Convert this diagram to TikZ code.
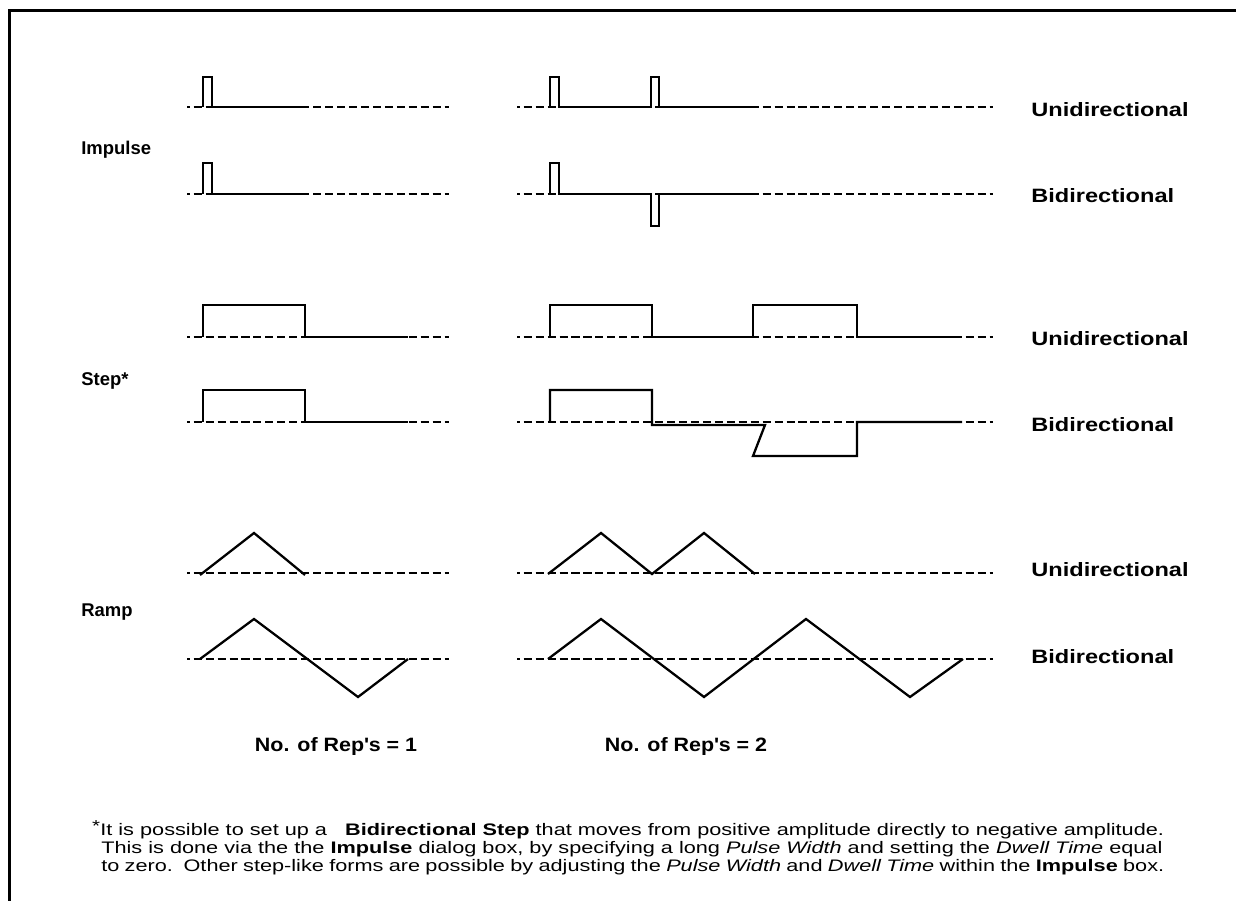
\documentclass[tikz,border=0pt]{standalone}
\usepackage{fontspec}
\setmainfont{Liberation Sans}
\newfontfamily\notefont[FakeStretch=1.3]{Liberation Sans}
\newfontfamily\modefont[FakeStretch=1.22]{Liberation Sans}
\newfontfamily\repfont[FakeStretch=1.11]{Liberation Sans}
\begin{document}
\begin{tikzpicture}[x=0.02cm,y=-0.02cm,
    wave/.style={line width=1.3pt,line join=miter},
    baseline/.style={line width=1.2pt,dash pattern=on 4.6pt off 2.2pt,dash phase=3pt},
    kindlabel/.style={anchor=west,inner sep=0pt,font=\bfseries\fontsize{10.5}{12}\selectfont},
    modelabel/.style={anchor=west,inner sep=0pt,font=\modefont\bfseries\fontsize{11}{12}\selectfont},
    replabel/.style={inner sep=0pt,font=\repfont\bfseries\fontsize{11}{12}\selectfont},
    noteline/.style={anchor=west,inner sep=0pt,font=\notefont\fontsize{9.5}{10}\selectfont}]
        \useasboundingbox (0,0) rectangle (1236,901);
        % frame, only top and left edges in view
        \draw[line width=1.7pt] (9.5,901) -- (9.5,11) -- (1236,11);

        % dashed zero lines
        \foreach \yb in {107,194,337,422,573,659}
        {
            \draw[baseline] (187,\yb) -- (449,\yb);
            \draw[baseline] (517,\yb) -- (993,\yb);
        }

        % impulse
        \draw[wave] (203,107) -- (203,77) -- (212,77) -- (212,107) -- (305,107);
        \draw[wave] (550,107) -- (550,77) -- (559,77) -- (559,107) -- (651,107)
            -- (651,77) -- (659,77) -- (659,107) -- (753,107);
        \draw[wave] (203,194) -- (203,163) -- (212,163) -- (212,194) -- (305,194);
        \draw[wave] (550,194) -- (550,163) -- (559,163) -- (559,194) -- (651,194)
            -- (651,226) -- (659,226) -- (659,194) -- (753,194);

        % step
        \draw[wave] (203,337) -- (203,305) -- (305,305) -- (305,337) -- (408,337);
        \draw[wave] (550,337) -- (550,305) -- (652,305) -- (652,337) -- (753,337)
            -- (753,305) -- (857,305) -- (857,337) -- (962,337);
        \draw[wave] (203,422) -- (203,390) -- (305,390) -- (305,422) -- (408,422);
        \draw[wave] (550,422) -- (550,390) -- (652,390) -- (652,425) -- (765,425)
            -- (753,456) -- (857,456) -- (857,422) -- (962,422);

        % ramp
        \draw[wave] (200,575) -- (254,533) -- (305,575);
        \draw[wave] (548,574) -- (601,533) -- (652,574) -- (704,533) -- (755,574);
        \draw[wave] (200,659) -- (254,619) -- (358,697) -- (408,659);
        \draw[wave] (548,659) -- (601,619) -- (704,697) -- (806,619) -- (910,697) -- (963,659);

        % labels
        \node[kindlabel] (impulse) at (81,150) {Impulse};
        \node[kindlabel] (step) at (81,381) {Step*};
        \node[kindlabel] (ramp) at (81,612) {Ramp};
        \foreach \yl/\nm/\txt in {110/impuni/Unidirectional,196/impbi/Bidirectional,
            339/stepuni/Unidirectional,425/stepbi/Bidirectional,
            570/rampuni/Unidirectional,657/rampbi/Bidirectional}
            \node[modelabel] (\nm) at (1031,\yl) {\txt};
        \node[replabel] (repone) at (336,746) {No. of Rep\textquotesingle s = 1};
        \node[replabel] (reptwo) at (686,746) {No. of Rep\textquotesingle s = 2};

        % footnote
        \node[inner sep=0pt,font=\notefont\fontsize{9}{10}\selectfont] (star) at (96,826) {*};
        \node[noteline] (noteone) at (100,831) {It is possible to set up a\ \ \ \textbf{Bidirectional Step} that moves from positive amplitude directly to negative amplitude.};
        \node[noteline] (notetwo) at (101,849) {This is done via the the \textbf{Impulse} dialog box, by specifying a long \textit{Pulse Width} and setting the \textit{Dwell Time} equal};
        \node[noteline] (notethree) at (101,867) {\spaceskip=0.88\fontdimen2\font to zero.\ \ Other step-like forms are possible by adjusting the \textit{Pulse Width} and \textit{Dwell Time} within the \textbf{Impulse} box.};
\end{tikzpicture}
\end{document}
